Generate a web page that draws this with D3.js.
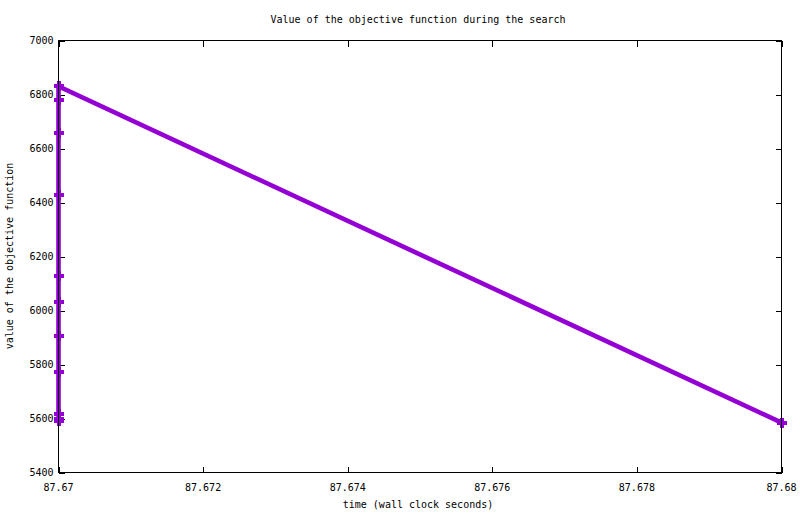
<!DOCTYPE html>
<html><head><meta charset="utf-8">
<script src="https://cdn.jsdelivr.net/npm/d3@7"></script>
<style>body{margin:0;background:#fff}svg{display:block}text{font-family:"DejaVu Sans Mono",monospace;font-size:10px;fill:#000}</style>
</head><body>
<script>
const times = [87.67,87.67,87.67,87.67,87.67,87.67,87.67,87.67,87.67,87.67,87.67,87.67,87.68];
const values = [5615,5600,5590,5772,5905,6030,6127,6427,6658,6778,6833,6830,5585];
const xTicks = [87.67,87.672,87.674,87.676,87.678,87.68];
const xTickLabels = ["87.67","87.672","87.674","87.676","87.678","87.68"];
const yTicks = [5400,5600,5800,6000,6200,6400,6600,6800,7000];
const title = "Value of the objective function during the search";
const xTitle = "time (wall clock seconds)";
const yTitle = "value of the objective function";

const W=800,H=514, L=58.5,R=781.5,T=40.5,B=472.5;
const svg=d3.select("body").append("svg").attr("width",W).attr("height",H);
const x=d3.scaleLinear().domain([87.67,87.68]).range([L,R]);
const y=d3.scaleLinear().domain([5400,7000]).range([B,T]);
const data=times.map((t,i)=>({t,v:values[i]}));
const col="#9400D3";

// ticks
const tk=svg.append("g").attr("stroke","#000").attr("stroke-width",1).attr("shape-rendering","crispEdges");
yTicks.forEach(v=>{
  tk.append("line").attr("x1",L).attr("x2",L+6).attr("y1",Math.round(y(v))+0.5).attr("y2",Math.round(y(v))+0.5);
  tk.append("line").attr("x1",R-6).attr("x2",R).attr("y1",Math.round(y(v))+0.5).attr("y2",Math.round(y(v))+0.5);
  svg.append("text").attr("x",L-5).attr("y",y(v)).attr("dy","0.35em").attr("text-anchor","end").text(v);
});
xTicks.forEach((v,i)=>{
  const px=Math.round(x(v))+0.5;
  tk.append("line").attr("x1",px).attr("x2",px).attr("y1",B).attr("y2",B-6);
  tk.append("line").attr("x1",px).attr("x2",px).attr("y1",T).attr("y2",T+6);
  svg.append("text").attr("x",x(v)).attr("y",B+18).attr("text-anchor","middle").text(xTickLabels[i]);
});

// data line
svg.append("path").datum(data).attr("fill","none").attr("stroke",col).attr("stroke-width",4.6)
  .attr("d",d3.line().x(d=>x(d.t)).y(d=>y(d.v)));
// plus markers
const s=5;
svg.append("g").selectAll("path").data(data).join("path")
  .attr("fill","none").attr("stroke",col).attr("stroke-width",4).attr("shape-rendering","crispEdges")
  .attr("d",d=>{const px=x(d.t),py=y(d.v);return `M${px-s},${py}H${px+s}M${px},${py-s}V${py+s}`;});

// frame
svg.append("rect").attr("x",L).attr("y",T).attr("width",R-L).attr("height",B-T).attr("fill","none").attr("stroke","#000").attr("stroke-width",1).attr("shape-rendering","crispEdges");

svg.append("text").attr("x",418).attr("y",23).attr("text-anchor","middle").text(title);
svg.append("text").attr("x",418).attr("y",508).attr("text-anchor","middle").text(xTitle);
svg.append("text").attr("transform","translate(13,256) rotate(-90)").attr("text-anchor","middle").text(yTitle);
</script>
</body></html>
